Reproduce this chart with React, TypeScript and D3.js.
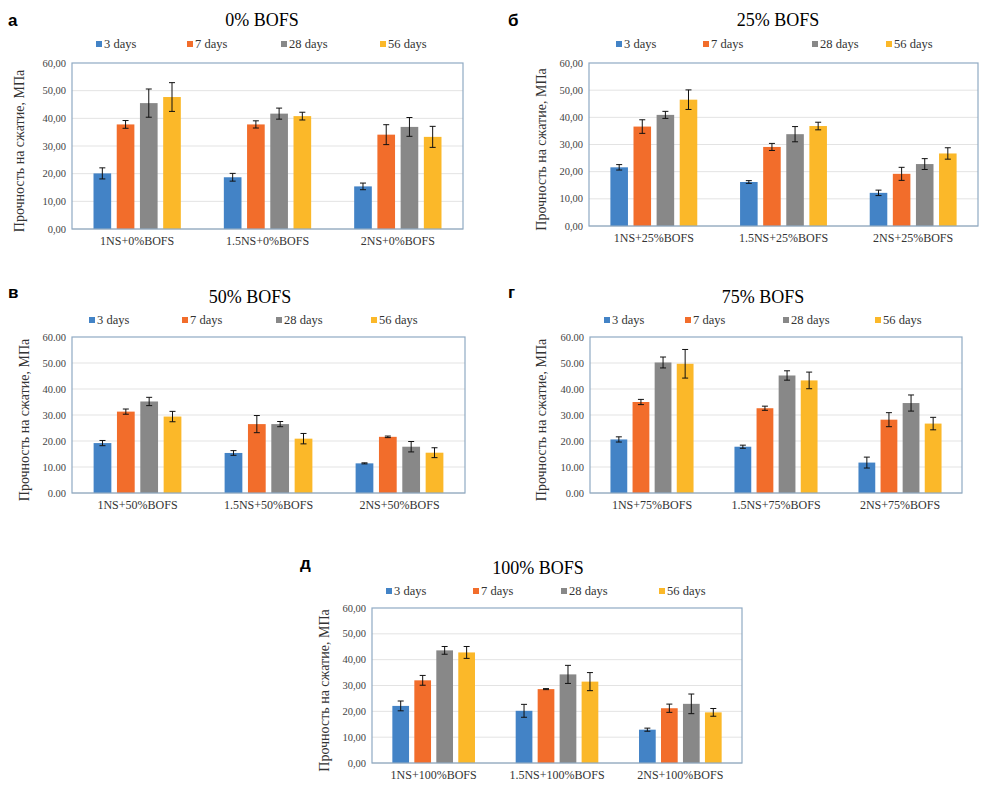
import * as d3 from "d3";

const days = ["3 days", "7 days", "28 days", "56 days"];
const colors = ["#4383C6", "#F26D2B", "#888888", "#FBB829"];
const yTicks = [0, 10, 20, 30, 40, 50, 60];

const cats0 = ["1NS+0%BOFS", "1.5NS+0%BOFS", "2NS+0%BOFS"];
const vals0 = [[20.1, 37.8, 45.5, 47.7], [18.7, 37.8, 41.7, 40.8], [15.4, 34.1, 36.9, 33.3]];
const errs0 = [[2.0, 1.4, 5.1, 5.2], [1.4, 1.3, 2.0, 1.4], [1.2, 3.6, 3.4, 3.8]];

const cats25 = ["1NS+25%BOFS", "1.5NS+25%BOFS", "2NS+25%BOFS"];
const vals25 = [[21.6, 36.6, 40.9, 46.5], [16.2, 29.1, 33.8, 36.8], [12.2, 19.2, 22.8, 26.7]];
const errs25 = [[1.0, 2.5, 1.3, 3.6], [0.5, 1.3, 2.8, 1.4], [1.0, 2.4, 2.0, 2.1]];

const cats50 = ["1NS+50%BOFS", "1.5NS+50%BOFS", "2NS+50%BOFS"];
const vals50 = [[19.2, 31.3, 35.2, 29.4], [15.4, 26.5, 26.5, 20.9], [11.4, 21.6, 17.8, 15.5]];
const errs50 = [[1.0, 1.0, 1.6, 2.0], [0.9, 3.3, 1.0, 2.0], [0.2, 0.3, 2.0, 1.9]];

const cats75 = ["1NS+75%BOFS", "1.5NS+75%BOFS", "2NS+75%BOFS"];
const vals75 = [[20.6, 35.0, 50.2, 49.7], [17.8, 32.6, 45.2, 43.3], [11.7, 28.2, 34.6, 26.7]];
const errs75 = [[1.0, 1.0, 2.1, 5.5], [0.6, 0.8, 1.8, 3.2], [2.1, 2.7, 3.1, 2.4]];

const cats100 = ["1NS+100%BOFS", "1.5NS+100%BOFS", "2NS+100%BOFS"];
const vals100 = [[22.1, 32.0, 43.6, 42.8], [20.2, 28.6, 34.3, 31.5], [12.9, 21.2, 22.9, 19.6]];
const errs100 = [[1.9, 1.9, 1.5, 2.3], [2.5, 0.2, 3.5, 3.5], [0.6, 1.6, 3.8, 1.5]];

const yTitle = "Прочность на сжатие, МПа";
const serif = { fontFamily: "\"Liberation Serif\", \"Times New Roman\", Tinos, \"DejaVu Serif\", serif" };
const sans = { fontFamily: "\"Liberation Sans\", Arial, \"DejaVu Sans\", sans-serif" };

type PanelProps = {
  letter: string;
  letterX: number;
  letterY: number;
  title: string;
  titleX: number;
  titleY: number;
  legendY: number;
  legendXs: number[];
  x0: number;
  x1: number;
  y0: number;
  y1: number;
  yTitleX: number;
  comma: boolean;
  cats: string[];
  vals: number[][];
  errs: number[][];
};

const Panel = (p: PanelProps) => {
  const y = d3.scaleLinear().domain([0, 60]).range([p.y1, p.y0]);
  const x = d3.scaleBand<string>().domain(p.cats).range([p.x0, p.x1]).paddingInner(0.33).paddingOuter(0.165);
  const xs = d3.scaleBand<string>().domain(days).range([0, x.bandwidth()]).paddingInner(0.24);
  const fmt = (v: number) => {
    const s = d3.format(".2f")(v);
    return p.comma ? s.replace(".", ",") : s;
  };
  const bw = xs.bandwidth();
  return (
    <g>
      <text x={p.letterX} y={p.letterY} style={sans} fontWeight="bold" fontSize={17}>{p.letter}</text>
      <text x={p.titleX} y={p.titleY} textAnchor="middle" style={serif} fontSize={18}>{p.title}</text>
      {days.map((d, i) => (
        <g key={d}>
          <rect x={p.legendXs[i] - 3} y={p.legendY - 4} width={6} height={6} fill={colors[i]} />
          <text x={p.legendXs[i] + 5} y={p.legendY + 3} style={serif} fontSize={12.5} fill="#333">{d}</text>
        </g>
      ))}
      {yTicks.map((t) => (
        <g key={t}>
          {t > 0 && t < 60 && <line x1={p.x0} x2={p.x1} y1={y(t)} y2={y(t)} stroke="#E3E3E3" strokeWidth={1} />}
          <text x={p.x0 - 6} y={y(t) + 3.5} textAnchor="end" style={serif} fontSize={10.5} fill="#444">{fmt(t)}</text>
        </g>
      ))}
      <line x1={p.x0} x2={p.x1} y1={p.y1} y2={p.y1} stroke="#D0D0D0" strokeWidth={1} />
      {p.cats.map((c, ci) => (
        <g key={c}>
          {days.map((d, si) => {
            const v = p.vals[ci][si];
            const e = p.errs[ci][si];
            const bx = (x(c) ?? 0) + (xs(d) ?? 0);
            const cx = bx + bw / 2;
            return (
              <g key={d}>
                <rect x={bx} y={y(v)} width={bw} height={y(0) - y(v)} fill={colors[si]} />
                <line x1={cx} x2={cx} y1={y(v + e)} y2={y(v - e)} stroke="#111" strokeWidth={1} />
                <line x1={cx - 3} x2={cx + 3} y1={y(v + e)} y2={y(v + e)} stroke="#111" strokeWidth={1} />
                <line x1={cx - 3} x2={cx + 3} y1={y(v - e)} y2={y(v - e)} stroke="#111" strokeWidth={1} />
              </g>
            );
          })}
          <text x={(x(c) ?? 0) + x.bandwidth() / 2} y={p.y1 + 16} textAnchor="middle" style={serif} fontSize={12} fill="#333">{c}</text>
        </g>
      ))}
      <rect x={p.x0} y={p.y0} width={p.x1 - p.x0} height={p.y1 - p.y0} fill="none" stroke="#8FAAC3" strokeWidth={1.2} />
      <text transform={`translate(${p.yTitleX},${(p.y0 + p.y1) / 2 + 5}) rotate(-90)`} textAnchor="middle" style={serif} fontSize={14} fill="#333">{yTitle}</text>
    </g>
  );
};

const App = () => (
  <svg width={1003} height={804} style={{ position: "absolute", left: 0, top: 0, background: "#fff" }}>
    <Panel letter="а" letterX={8} letterY={26} title="0% BOFS" titleX={262} titleY={26} legendY={45}
      legendXs={[99, 190, 284, 383]} x0={72} x1={463} y0={63} y1={229} yTitleX={24} comma={true}
      cats={cats0} vals={vals0} errs={errs0} />
    <Panel letter="б" letterX={508} letterY={26} title="25% BOFS" titleX={778} titleY={26} legendY={45}
      legendXs={[619, 706, 815, 889]} x0={589} x1={978} y0={63} y1={226} yTitleX={546} comma={true}
      cats={cats25} vals={vals25} errs={errs25} />
    <Panel letter="в" letterX={8} letterY={298} title="50% BOFS" titleX={250} titleY={303} legendY={321}
      legendXs={[92, 185, 279, 374]} x0={72} x1={465} y0={337} y1={493} yTitleX={29} comma={false}
      cats={cats50} vals={vals50} errs={errs50} />
    <Panel letter="г" letterX={508} letterY={298} title="75% BOFS" titleX={763} titleY={303} legendY={321}
      legendXs={[607, 688, 786, 878]} x0={590} x1={962} y0={337} y1={493} yTitleX={546} comma={false}
      cats={cats75} vals={vals75} errs={errs75} />
    <Panel letter="д" letterX={300} letterY={569} title="100% BOFS" titleX={538} titleY={574} legendY={592}
      legendXs={[389, 476, 564, 662]} x0={372} x1={742} y0={608} y1={763} yTitleX={329} comma={true}
      cats={cats100} vals={vals100} errs={errs100} />
  </svg>
);

export default App;
